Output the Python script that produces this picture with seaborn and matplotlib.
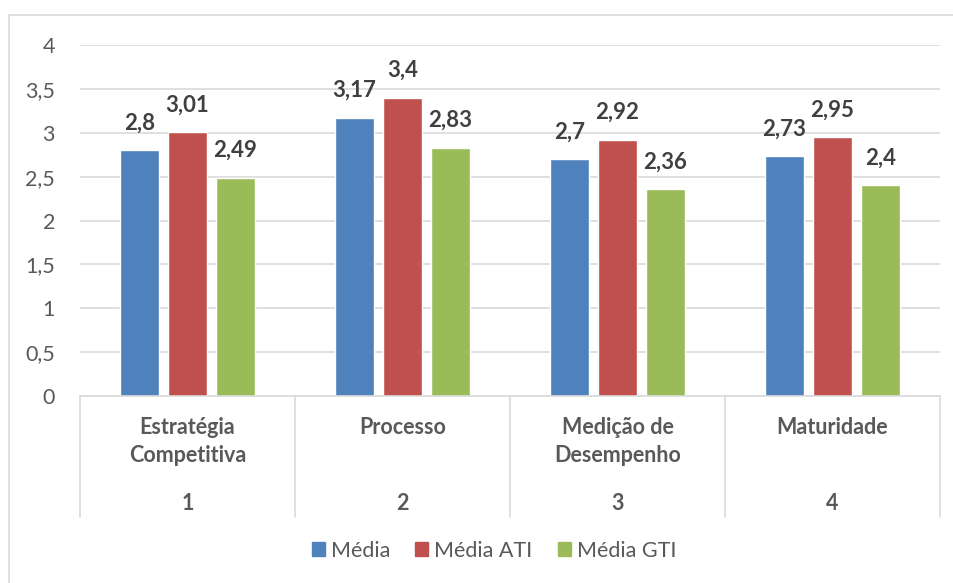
import matplotlib
matplotlib.use("Agg")
import matplotlib.pyplot as plt
import matplotlib.patches as mpatches
from matplotlib.lines import Line2D
import seaborn as sns
import pandas as pd

# Dados
categorias = ["Estratégia\nCompetitiva", "Processo", "Medição de\nDesempenho", "Maturidade"]
numeros = ["1", "2", "3", "4"]
series = ["Média", "Média ATI", "Média GTI"]
media = [2.8, 3.17, 2.7, 2.73]
media_ati = [3.01, 3.4, 2.92, 2.95]
media_gti = [2.49, 2.83, 2.36, 2.4]
yticks = [0, 0.5, 1, 1.5, 2, 2.5, 3, 3.5, 4]
cores = ["#4F81BD", "#C0504D", "#9BBB59"]

df = pd.DataFrame({
    "cat": categorias * 3,
    "serie": [s for s in series for _ in categorias],
    "valor": media + media_ati + media_gti,
})

sns.set_theme(style="white")
plt.rcParams["font.family"] = ["Lato", "DejaVu Sans"]

W, H = 954, 583
fig = plt.figure(figsize=(W / 100, H / 100), dpi=100)
ax = fig.add_axes([80 / W, (H - 396) / H, 860 / W, 351 / H])

sns.barplot(data=df, x="cat", y="valor", hue="serie", order=categorias,
            hue_order=series, palette=cores, width=0.67, gap=0.2,
            saturation=1, ax=ax, legend=False, errorbar=None)

ax.set_ylim(0, 4)
ax.set_xlim(-0.5, 3.5)
ax.set_yticks(yticks)
ax.set_yticklabels([f"{v:g}".replace(".", ",") for v in yticks],
                   fontsize=15.5, color="#595959")
ax.tick_params(axis="y", length=0, pad=18)
ax.tick_params(axis="x", length=0)
ax.set_xticks([])
ax.set_xlabel("")
ax.set_ylabel("")
ax.yaxis.grid(True, color="#D9D9D9", lw=1.2)
ax.set_axisbelow(True)
for s in ["top", "right", "left"]:
    ax.spines[s].set_visible(False)
ax.spines["bottom"].set_color("#D9D9D9")
ax.spines["bottom"].set_linewidth(1.2)

# Rótulos de valor
for cont in ax.containers:
    labels = [f"{b.get_height():g}".replace(".", ",") for b in cont]
    ax.bar_label(cont, labels=labels, padding=12, fontsize=16,
                 fontweight="bold", color="#404040")

# Eixo de categorias em dois níveis
tr = ax.get_xaxis_transform()
ah = 351.0
for x in [-0.5, 0.5, 1.5, 2.5, 3.5]:
    ax.add_line(Line2D([x, x], [0, -(517 - 396) / ah], transform=tr,
                       color="#D9D9D9", lw=1.2, clip_on=False))
for i, (nome, num) in enumerate(zip(categorias, numeros)):
    for j, linha in enumerate(nome.split("\n")):
        ax.text(i, -(428 + 28 * j - 396) / ah, linha, transform=tr,
                ha="center", va="center", fontsize=15.5,
                fontweight="bold", color="#595959")
    ax.text(i, -(503 - 396) / ah, num, transform=tr, ha="center",
            va="center", fontsize=15.5, fontweight="bold", color="#595959")

# Legenda
handles = [mpatches.Patch(color=c, label=s) for c, s in zip(cores, series)]
fig.legend(handles=handles, loc="center",
           bbox_to_anchor=(494 / W, (H - 551) / H),
           ncol=3, frameon=False, fontsize=15.5, handlelength=0.62,
           handleheight=0.62, handletextpad=0.28, columnspacing=1.15,
           labelcolor="#595959")

# Borda do gráfico
fig.add_artist(mpatches.Rectangle((9.5 / W, -0.05), 1.2, (H - 15) / H + 0.05,
                                  transform=fig.transFigure, fill=False,
                                  edgecolor="#D9D9D9", lw=1.2))

fig.savefig("out.png", dpi=100)
